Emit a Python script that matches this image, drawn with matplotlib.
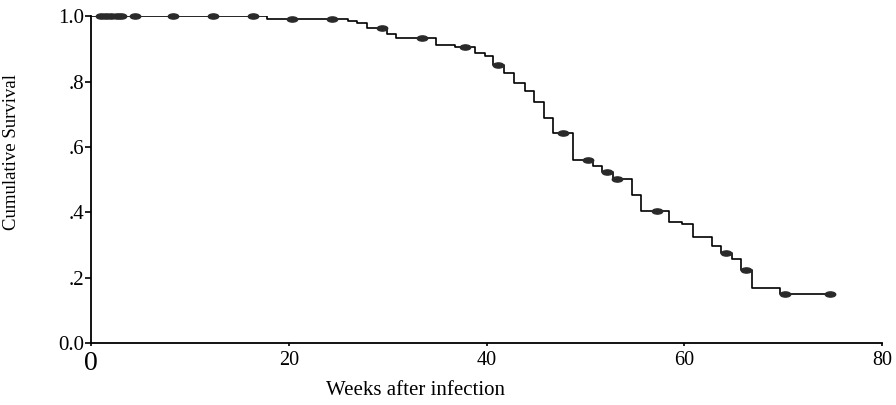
import numpy as np
import matplotlib
matplotlib.use("Agg")
import matplotlib.pyplot as plt
from matplotlib.path import Path
from matplotlib.transforms import Affine2D

plt.rcParams['font.family'] = ['Liberation Serif', 'DejaVu Serif']

# Kaplan-Meier steps: week of each drop and survival after it
step_weeks = [0, 17.8, 26.0, 26.9, 27.9, 29.9, 30.8, 34.9, 36.8, 38.8, 39.8,
              40.7, 41.8, 42.8, 43.9, 44.8, 45.8, 46.7, 48.7, 50.8, 51.7,
              52.8, 54.7, 55.6, 58.5, 59.8, 60.9, 62.8, 63.7, 64.8, 65.7,
              66.8, 69.7]
survival = [1.0, 0.991, 0.985, 0.978, 0.964, 0.945, 0.934, 0.913, 0.907,
            0.887, 0.879, 0.850, 0.827, 0.796, 0.772, 0.737, 0.687, 0.643,
            0.560, 0.541, 0.524, 0.503, 0.453, 0.405, 0.371, 0.363, 0.325,
            0.297, 0.276, 0.257, 0.223, 0.167, 0.149]
# censored observations
censor_weeks = [1.0, 1.5, 2.0, 2.6, 3.0, 4.4, 8.3, 12.3, 16.4, 20.3, 24.4,
                29.4, 33.5, 37.8, 41.2, 47.7, 50.3, 52.2, 53.2, 57.2, 64.2,
                66.2, 70.2, 74.7]

yticks = [0, 0.2, 0.4, 0.6, 0.8, 1.0]
ytick_labels = ['0.0', '.2', '.4', '.6', '.8', '1.0']
xticks = [0, 20, 40, 60, 80]

fig = plt.figure(figsize=(8.96, 4.05), dpi=100)
ax = fig.add_axes([0.1016, 0.153, 0.8828, 0.807])

x = step_weeks + [censor_weeks[-1]]
y = survival + [survival[-1]]
ax.step(x, y, where='post', color='black', lw=1.2, zorder=3)

idx = np.searchsorted(step_weeks, censor_weeks, side='right') - 1
cy = np.array(survival)[idx]
blob = Path.unit_circle().transformed(Affine2D().scale(1.0, 0.5))
ax.plot(censor_weeks, cy, ls='none', marker=blob, ms=7.5, color='#2a2a2a',
        mec='#2a2a2a', zorder=4, clip_on=False)

ax.set_xlim(0, 80)
ax.set_ylim(0, 1)
ax.spines['top'].set_visible(False)
ax.spines['right'].set_visible(False)
for s in ['left', 'bottom']:
    ax.spines[s].set_linewidth(1.3)

ax.set_yticks(yticks)
ax.set_yticklabels(ytick_labels, fontsize=15)
ax.set_xticks(xticks)
ax.set_xticklabels([str(v) for v in xticks], fontsize=14.5)
ax.get_xticklabels()[0].set_fontsize(20)
ax.tick_params(axis='y', direction='out', length=4, width=1.2, pad=1)
ax.tick_params(axis='x', direction='out', length=2.5, width=1.2, pad=3)

ax.set_xlabel('Weeks after infection', fontsize=15)
ax.xaxis.set_label_coords(0.41, -0.115)
ax.set_ylabel('Cumulative Survival', fontsize=13.5)
ax.yaxis.set_label_coords(-0.09, 0.585)

fig.savefig('out.png', dpi=100)
